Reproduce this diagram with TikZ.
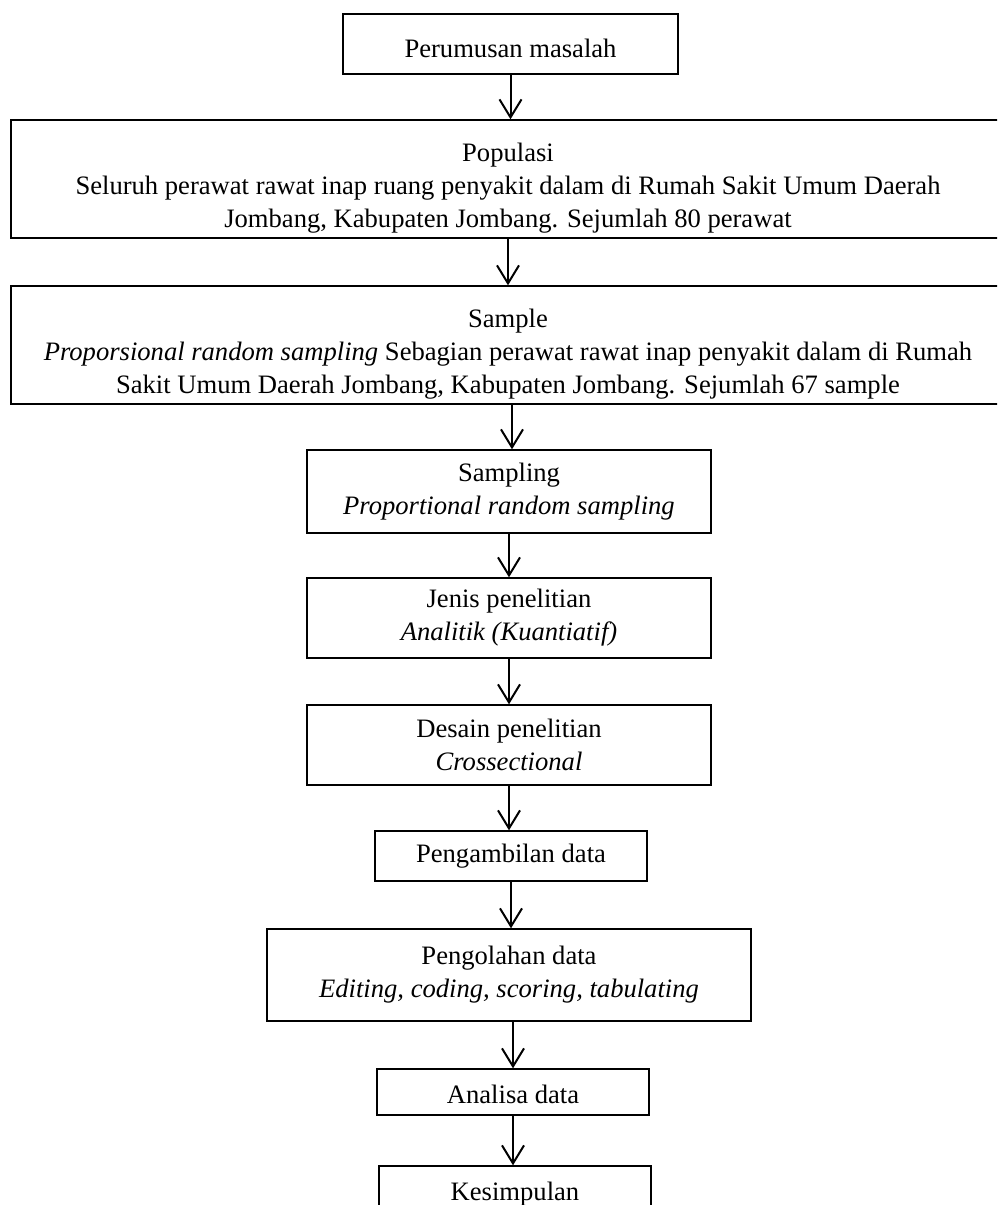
\documentclass[tikz,border=0pt]{standalone}
\usepackage{fontspec}
\setmainfont{Liberation Serif}
\usetikzlibrary{arrows.meta}
\newcommand{\turun}[1]{\rule{0pt}{#1}}
\tikzset{
	kotak/.style={draw,line width=0.7pt,align=center,inner sep=0pt,font=\fontsize{13.3}{16.5}\selectfont},
	panah/.style={line width=1pt,-{Straight Barb[length=9pt,width=11pt,line width=1pt]}}
}
\begin{document}
\begin{tikzpicture}[x=0.5pt,y=-0.5pt]
				\useasboundingbox (0,0) rectangle (997,1205);
				\clip (0,0) rectangle (997,1205);
				\node (rumusan) at (510.5,44)[kotak,minimum width=167.5pt,minimum height=30pt]{\turun{14pt}Perumusan masalah};
				\node (populasi) at (508,179)[kotak,minimum width=497pt,minimum height=59pt]{\turun{18pt}Populasi\\Seluruh perawat rawat inap ruang penyakit dalam di Rumah Sakit Umum Daerah\\Jombang, Kabupaten Jombang. Sejumlah 80 perawat};
				\node (sample) at (508,345)[kotak,minimum width=497pt,minimum height=59pt]{\turun{18pt}Sample\\\textit{Proporsional random sampling} Sebagian perawat rawat inap penyakit dalam di Rumah\\Sakit Umum Daerah Jombang, Kabupaten Jombang. Sejumlah 67 sample};
				\node (sampling) at (509,491.5)[kotak,minimum width=202pt,minimum height=41.5pt]{Sampling\\\textit{Proportional random sampling}};
				\node (jenis) at (509,618)[kotak,minimum width=202pt,minimum height=40pt]{Jenis penelitian\\\textit{Analitik (Kuantiatif)}};
				\node (desain) at (509,745)[kotak,minimum width=202pt,minimum height=40pt]{Desain penelitian\\\textit{Crossectional}};
				\node (ambil) at (511,856)[kotak,minimum width=136pt,minimum height=25pt]{Pengambilan data};
				\node (olah) at (509,975)[kotak,minimum width=242pt,minimum height=46pt]{Pengolahan data\\\textit{Editing, coding, scoring, tabulating}};
				\node (analisa) at (513,1092)[kotak,minimum width=136pt,minimum height=23pt]{\turun{12pt}Analisa data};
				\node (simpul) at (515,1191)[kotak,minimum width=136pt,minimum height=25pt]{\turun{12pt}Kesimpulan};
				% panah antar kotak
				\draw[panah] (rumusan.south) -- (rumusan.south |- populasi.north);
				\draw[panah] (populasi.south) -- (populasi.south |- sample.north);
				\draw[panah] ([xshift=2pt]sample.south) -- ([xshift=2pt]sample.south |- sampling.north);
				\draw[panah] (sampling.south) -- (sampling.south |- jenis.north);
				\draw[panah] (jenis.south) -- (jenis.south |- desain.north);
				\draw[panah] (desain.south) -- (desain.south |- ambil.north);
				\draw[panah] (ambil.south) -- (ambil.south |- olah.north);
				\draw[panah] ([xshift=2pt]olah.south) -- ([xshift=2pt]olah.south |- analisa.north);
				\draw[panah] (analisa.south) -- (analisa.south |- simpul.north);
				%	\draw[dotted] (0,1205) -- (997,1205);
\end{tikzpicture}
\end{document}
